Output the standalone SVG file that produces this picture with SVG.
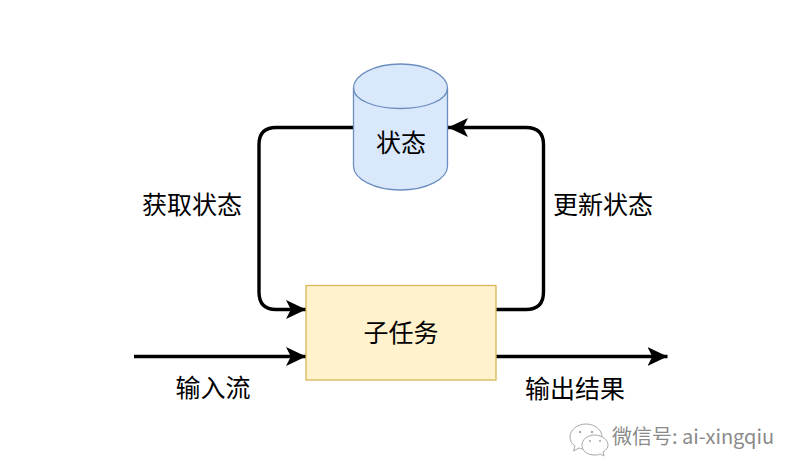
<svg xmlns="http://www.w3.org/2000/svg" width="800" height="476" viewBox="0 0 800 476">
<style>
text{font-family:"Liberation Sans","Noto Sans CJK SC",sans-serif;fill:#000;font-size:25px;text-anchor:middle}
.c{fill:none;stroke:#000;stroke-width:3.4}
text.wm{font-size:20px;fill:#8a8a8a;text-anchor:start;font-family:"Noto Sans CJK SC","Noto Sans",sans-serif}
.ic{fill:#fff;stroke:#a8a8a8;stroke-width:1}
</style>
<defs>
<marker id="a" markerUnits="userSpaceOnUse" markerWidth="22" markerHeight="22" refX="20" refY="10" orient="auto">
<path d="M0 0.500L20 10L0 19.500L4.800 10Z" fill="#000"/>
</marker>
</defs>
<rect width="800" height="476" fill="#fff"/>
<g id="connectors">
<path class="c" d="M353 127.500H276Q259 127.500 259 144.500V292Q259 309.500 276 309.500H306" marker-end="url(#a)"/>
<path class="c" d="M496 309.500H526Q543.500 309.500 543.500 292V144.500Q543.500 127.500 526 127.500H448" marker-end="url(#a)"/>
<path class="c" d="M134 356.500H306" marker-end="url(#a)"/>
<path class="c" d="M496 356.500H667.500" marker-end="url(#a)"/>
</g>
<g id="state">
<path d="M353.500 88C353.500 75 374.500 64 400.500 64S447.500 75 447.500 88V166C447.500 179 426.500 190 400.500 190S353.500 179 353.500 166Z" fill="#dae8fc" stroke="#6c8ebf" stroke-width="1.300"/>
<path d="M353.500 88C353.500 100 374.500 108.500 400.500 108.500S447.500 100 447.500 88" fill="none" stroke="#6c8ebf" stroke-width="1.300"/>
<text x="401" y="152">状态</text>
</g>
<g id="subtask">
<rect x="306" y="285.500" width="190" height="94.500" fill="#fff2cc" stroke="#d6b656" stroke-width="1.300"/>
<text x="401" y="342">子任务</text>
</g>
<g id="labels">
<text x="192" y="214">获取状态</text>
<text x="603" y="214">更新状态</text>
<text x="213" y="397">输入流</text>
<text x="575" y="398">输出结果</text>
</g>
<g id="watermark">
<path class="ic" d="M586 424C577 424 570 430 570 437C570 441 572 444 575 446L573.500 451L579 448C581 449 583 449 586 449C594 449 602 443 602 437C602 430 595 424 586 424Z"/>
<path class="ic" d="M595 435C587 435 582 440 582 445C582 451 587 455 595 455C597 455 598 455 600 454L604 456L603 452C606 450 608 448 608 445C608 440 602 435 595 435Z"/>
<circle cx="580" cy="432" r="1.200" fill="#a8a8a8"/><circle cx="592" cy="432" r="1.200" fill="#a8a8a8"/>
<circle cx="590" cy="441" r="1" fill="#a8a8a8"/><circle cx="600" cy="441" r="1" fill="#a8a8a8"/>
<text class="wm" x="612" y="444">微信号: ai-xingqiu</text>
</g>
</svg>
